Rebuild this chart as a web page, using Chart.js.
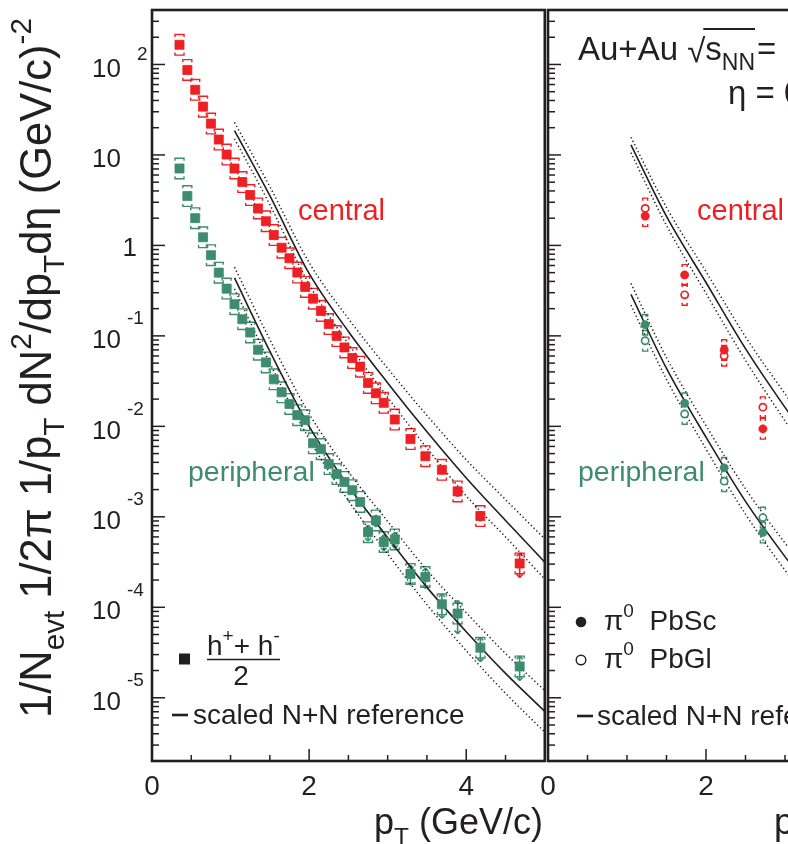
<!DOCTYPE html>
<html>
<head>
<meta charset="utf-8">
<title>Au+Au spectra, central and peripheral</title>
<script src="https://cdn.jsdelivr.net/npm/chart.js@4.4.1/dist/chart.umd.min.js"></script>
<style>
  html, body { margin: 0; padding: 0; background: #fff; overflow: hidden; }
  #wrap { position: relative; width: 788px; height: 844px; overflow: hidden; }
  canvas { position: absolute; top: 0; }
  #left { left: 0; }
  #right { left: 540px; }
</style>
</head>
<body>
<div id="wrap">
  <canvas id="left" width="552" height="844"></canvas>
  <canvas id="right" width="410" height="844"></canvas>
</div>
<script>
// ---- data ----
// (h+ + h-)/2, left panel
const hPt = [0.35, 0.45, 0.55, 0.65, 0.75, 0.85, 0.95, 1.05, 1.15, 1.25, 1.35, 1.45, 1.55, 1.65, 1.75,
             1.85, 1.95, 2.05, 2.15, 2.25, 2.35, 2.45, 2.55, 2.65, 2.75, 2.85, 2.95, 3.09, 3.29, 3.48,
             3.69, 3.89, 4.18, 4.68];
const hCentral = [165, 87, 52.5, 34.2, 22.2, 14.8, 10.1, 7.08, 5.01, 3.6, 2.56, 1.85, 1.3, 0.944, 0.721,
                  0.501, 0.348, 0.258, 0.189, 0.135, 0.0995, 0.0745, 0.0569, 0.0457, 0.0302, 0.0232, 0.0182,
                  0.0119, 0.00724, 0.00468, 0.00331, 0.00191, 0.00102, 0.000305];
const hPeripheral = [7.08, 3.51, 2.0, 1.23, 0.78, 0.5, 0.333, 0.224, 0.153, 0.109, 0.0703, 0.0509, 0.0331,
                     0.0238, 0.0177, 0.0133, 0.0117, 0.0065, 0.0056, 0.00383, 0.00297, 0.00243, 0.00197,
                     0.00146, 0.000676, 0.000912, 0.000527, 0.000562, 0.000234, 0.000216, 0.000108,
                     0.0000853, 0.0000358, 0.0000222];
// statistical errors (relative), 0 where hidden under the marker
const hCentralStat = [0,0,0,0,0,0,0,0,0,0,0,0,0,0,0,0,0,0,0,0,0,0,0,0,0,0,0,0,0,0,0.1,0.12,0.12,0.3];
const hPeripheralStat = [0,0,0,0,0,0,0,0,0,0,0,0,0,0,0,0,0,0,0,0,0,0,0,0,0.2,0.15,0.2,0.2,0.25,0.25,0.3,0.4,0.3,0.3];
const sysFactor = 1.3;

// scaled N+N reference, left panel
const refPt = [1.05, 1.5, 2, 2.5, 3, 3.5, 4, 4.5, 5];
const refCentral   = [18.6, 3.55, 0.49, 0.112, 0.0302, 0.0087, 0.00269, 0.000912, 0.000316];
const refCentralHi = [22.9, 4.47, 0.646, 0.155, 0.0437, 0.0132, 0.00427, 0.00155, 0.00057];
const refCentralLo = [15.1, 2.82, 0.372, 0.0813, 0.0209, 0.00575, 0.0017, 0.0006, 0.000205];
const refPeriph    = [0.437, 0.0676, 0.01, 0.00219, 0.000589, 0.000166, 0.0000537, 0.0000186, 0.00000708];
const refPeriphHi  = [0.575, 0.0912, 0.0138, 0.00316, 0.000891, 0.000257, 0.0000871, 0.0000309, 0.000012];
const refPeriphLo  = [0.331, 0.0501, 0.00724, 0.00151, 0.000389, 0.000107, 0.0000331, 0.0000112, 0.00000417];

// pi0, right panel
const pi0Pt = [1.23, 1.73, 2.23, 2.72];
const pi0CentralPbSc = [2.11, 0.472, 0.0697, 0.00938];
const pi0CentralPbGl = [2.56, 0.284, 0.0603, 0.0163];
const pi0PeriphPbSc  = [0.133, 0.018, 0.00348, 0.00067];
const pi0PeriphPbGl  = [0.0883, 0.0137, 0.00248, 0.00098];

const pi0RefPt = [1.05, 1.5, 2, 2.5, 3, 3.5];
const pi0RefCentral   = [12.9, 2.09, 0.389, 0.0724, 0.0162, 0.00398];
const pi0RefCentralHi = [15.7, 2.63, 0.513, 0.0977, 0.0229, 0.00575];
const pi0RefCentralLo = [10.6, 1.66, 0.295, 0.0537, 0.0115, 0.00275];
const pi0RefPeriph    = [0.288, 0.0437, 0.00759, 0.00148, 0.000363, 0.0001];
const pi0RefPeriphHi  = [0.38, 0.0575, 0.0102, 0.00204, 0.000513, 0.000145];
const pi0RefPeriphLo  = [0.219, 0.0331, 0.00562, 0.00107, 0.000257, 0.0000692];

const xTickLabels = [0, 2, 4];
const yDecades = [-5, -4, -3, -2, -1, 0, 1, 2];

// ---- styling ----
const RED = '#ed2024';
const GREEN = '#3d8c6e';
const INK = '#231f20';
const FONT = '"Liberation Sans", Arial, Helvetica, sans-serif';

function pts(xs, ys) { return xs.map((x, i) => ({ x: x, y: ys[i] })); }

function squares(ys, color, stat) {
  return { data: pts(hPt, ys), pointStyle: 'rect', pointRadius: 6.4, backgroundColor: color,
           borderColor: color, borderWidth: 0.8, showLine: false, order: 1,
           sys: sysFactor, sysW: 4.5, stat: stat, errColor: color };
}
function circles(ys, color, open) {
  return { data: pts(pi0Pt, ys), pointStyle: 'circle', pointRadius: open ? 3.6 : 4.2,
           backgroundColor: open ? '#fff' : color, borderColor: color, borderWidth: open ? 1.7 : 0.5,
           showLine: false, order: open ? 1 : 0, sys: sysFactor, sysW: 2.5, errColor: color };
}
function curve(xs, ys, dotted) {
  return { data: pts(xs, ys), showLine: true, pointRadius: 0, borderColor: INK,
           borderWidth: dotted ? 1.5 : 1.6, borderDash: dotted ? [1.3, 2.6] : [],
           cubicInterpolationMode: 'monotone', fill: false, order: 2 };
}

function options(padLeft, padRight) {
  return {
    responsive: false, animation: false, events: [],
    layout: { padding: { left: padLeft, right: padRight, top: 10, bottom: 83 } },
    plugins: { legend: { display: false }, tooltip: { enabled: false } },
    scales: {
      x: { type: 'linear', min: 0, max: 5, display: false },
      y: { type: 'logarithmic', min: 2e-6, max: 400, display: false }
    }
  };
}

function setFont(ctx, size) { ctx.font = size + 'px ' + FONT; }

// text with sub/superscripts: parts = [[text, 'sub'|'sup'|undefined], ...]
function drawRich(ctx, x, y, parts, size, align) {
  let w = 0;
  for (const [t, k] of parts) { setFont(ctx, k ? size * 0.68 : size); w += ctx.measureText(t).width; }
  if (align === 'right') x -= w;
  else if (align === 'center') x -= w / 2;
  ctx.textAlign = 'left';
  ctx.textBaseline = 'alphabetic';
  for (const [t, k] of parts) {
    setFont(ctx, k ? size * 0.68 : size);
    const dy = k === 'sub' ? size * 0.3 : k === 'sup' ? -size * 0.45 : 0;
    ctx.fillText(t, x, y + dy);
    x += ctx.measureText(t).width;
  }
  return w;
}

function line(ctx, x1, y1, x2, y2) {
  ctx.beginPath(); ctx.moveTo(x1, y1); ctx.lineTo(x2, y2); ctx.stroke();
}

// systematic brackets and statistical bars
const errorBars = {
  id: 'errorBars',
  beforeDatasetsDraw(chart) {
    const ctx = chart.ctx, y = chart.scales.y;
    const a = chart.chartArea;
    ctx.save();
    ctx.beginPath(); ctx.rect(a.left, a.top, a.right - a.left, a.bottom - a.top); ctx.clip();
    chart.data.datasets.forEach((ds, i) => {
      if (!ds.sys) return;
      const meta = chart.getDatasetMeta(i);
      ctx.strokeStyle = ds.errColor;
      ctx.lineWidth = 1.4;
      meta.data.forEach((el, j) => {
        const v = ds.data[j].y;
        const w = ds.sysW, leg = 2.5;
        const top = y.getPixelForValue(v * ds.sys), bot = y.getPixelForValue(v / ds.sys);
        ctx.beginPath();
        ctx.moveTo(el.x - w, top + leg); ctx.lineTo(el.x - w, top); ctx.lineTo(el.x + w, top); ctx.lineTo(el.x + w, top + leg);
        ctx.moveTo(el.x - w, bot - leg); ctx.lineTo(el.x - w, bot); ctx.lineTo(el.x + w, bot); ctx.lineTo(el.x + w, bot - leg);
        ctx.stroke();
        const s = ds.stat ? ds.stat[j] : 0;
        if (s > 0) {
          const hi = y.getPixelForValue(v * (1 + s)), lo = y.getPixelForValue(v * (1 - s));
          ctx.lineWidth = 1.6;
          line(ctx, el.x, hi, el.x, lo);
          line(ctx, el.x - 3, hi + 3, el.x, hi); line(ctx, el.x, hi, el.x + 3, hi + 3);
          line(ctx, el.x - 3, lo - 3, el.x, lo); line(ctx, el.x, lo, el.x + 3, lo - 3);
          ctx.lineWidth = 1.4;
        }
      });
    });
    ctx.restore();
  }
};

// frame, inside ticks and x tick labels
function drawFrame(chart) {
  const ctx = chart.ctx, a = chart.chartArea, x = chart.scales.x, y = chart.scales.y;
  ctx.save();
  ctx.strokeStyle = INK;
  ctx.lineWidth = 1.5;
  for (const e of [-6].concat(yDecades)) {
    for (let m = 1; m <= 9; m++) {
      const v = m * Math.pow(10, e);
      if (v < y.min || v > y.max) continue;
      const py = y.getPixelForValue(v);
      line(ctx, a.left, py, a.left + (m === 1 ? 13 : 7), py);
    }
  }
  for (let v = 0.5; v < 5; v += 0.5) {
    const px = x.getPixelForValue(v);
    const major = xTickLabels.includes(v);
    line(ctx, px, a.bottom, px, a.bottom - (major ? 12 : 6));
  }
  ctx.lineWidth = 2.6;
  ctx.strokeRect(a.left, a.top, a.right - a.left, a.bottom - a.top);
  ctx.fillStyle = INK;
  setFont(ctx, 28);
  ctx.textAlign = 'center';
  ctx.textBaseline = 'middle';
  for (const v of xTickLabels) ctx.fillText(String(v), x.getPixelForValue(v), 787);
  ctx.restore();
}

const leftDecor = {
  id: 'leftDecor',
  afterDraw(chart) {
    const ctx = chart.ctx, y = chart.scales.y;
    drawFrame(chart);
    ctx.save();
    ctx.fillStyle = INK;
    // y tick labels
    for (const e of yDecades) {
      const py = y.getPixelForValue(Math.pow(10, e));
      ctx.textBaseline = 'middle';
      if (e === 0) {
        setFont(ctx, 26); ctx.textAlign = 'right'; ctx.fillText('1', 137, py + 3);
        continue;
      }
      setFont(ctx, 26); ctx.textAlign = 'right'; ctx.fillText('10', 121, py + 5);
      if (e !== 1) {
        setFont(ctx, 19); ctx.textAlign = 'left';
        ctx.fillText(String(e), e > 0 ? 137 : 127, py + (e > 0 ? -10 : -17));
      }
    }
    // y title
    const yParts = [['1/N'], ['evt', 'sub'], [' 1/2\u03c0 1/p'], ['T', 'sub'], [' dN'], ['2', 'sup'],
                    ['/dp'], ['T', 'sub'], ['d\u03b7 (GeV/c)'], ['-2', 'sup']];
    ctx.save();
    ctx.translate(51, 718);
    ctx.rotate(-Math.PI / 2);
    const w30 = (function () { let w = 0; for (const [t, k] of yParts) { setFont(ctx, k ? 30 * 0.68 : 30); w += ctx.measureText(t).width; } return w; })();
    drawRich(ctx, 0, 0, yParts, 30 * 700 / w30);
    ctx.restore();
    // x title
    drawRich(ctx, 543, 834, [['p'], ['T', 'sub'], [' (GeV/c)']], 36, 'right');
    // labels
    ctx.fillStyle = RED; drawRich(ctx, 298, 220, [['central']], 29);
    ctx.fillStyle = GREEN; drawRich(ctx, 188, 481, [['peripheral']], 28.5);
    // legend
    ctx.fillStyle = INK;
    ctx.fillRect(179, 653.5, 11, 11);
    drawRich(ctx, 207, 655, [['h'], ['+', 'sup'], ['+ h'], ['-', 'sup']], 28);
    ctx.strokeStyle = INK; ctx.lineWidth = 1.6;
    line(ctx, 207, 659.5, 280, 659.5);
    drawRich(ctx, 241, 685, [['2']], 28, 'center');
    ctx.lineWidth = 2.6;
    line(ctx, 172, 715, 188, 715);
    drawRich(ctx, 193, 724, [['scaled N+N reference']], 28);
    ctx.restore();
  }
};

const rightDecor = {
  id: 'rightDecor',
  afterDraw(chart) {
    const ctx = chart.ctx;
    drawFrame(chart);
    ctx.save();
    ctx.translate(-540, 0);
    ctx.fillStyle = INK;
    ctx.strokeStyle = INK;
    drawRich(ctx, 943, 834, [['p'], ['T', 'sub'], [' (GeV/c)']], 36, 'right');
    // header
    let cx = 578;
    cx += drawRich(ctx, cx, 60, [['Au+Au ']], 33);
    cx += drawRich(ctx, cx, 62, [['\u221a']], 33);
    const barStart = cx - 2;
    cx += drawRich(ctx, cx, 60, [['s']], 33);
    cx += drawRich(ctx, cx, 70, [['NN']], 23);
    ctx.lineWidth = 1.8;
    line(ctx, barStart, 29, cx, 29);
    drawRich(ctx, cx + 2, 60, [['= 130 GeV']], 33);
    drawRich(ctx, 728, 104, [['\u03b7 = 0']], 33);
    // labels
    ctx.fillStyle = RED; drawRich(ctx, 697, 220, [['central']], 29);
    ctx.fillStyle = GREEN; drawRich(ctx, 578, 481, [['peripheral']], 28.5);
    // legend
    ctx.fillStyle = INK;
    ctx.beginPath(); ctx.arc(581, 622, 5.3, 0, Math.PI * 2); ctx.fill();
    ctx.lineWidth = 1.4;
    ctx.beginPath(); ctx.arc(581, 660, 4.8, 0, Math.PI * 2); ctx.stroke();
    drawRich(ctx, 604, 630, [['\u03c0'], ['0', 'sup'], ['  PbSc']], 28);
    drawRich(ctx, 604, 668, [['\u03c0'], ['0', 'sup'], ['  PbGl']], 28);
    ctx.lineWidth = 2.6;
    line(ctx, 577, 716, 593, 716);
    drawRich(ctx, 597, 725, [['scaled N+N reference']], 28);
    ctx.restore();
  }
};

new Chart(document.getElementById('left'), {
  type: 'scatter',
  data: {
    datasets: [
      squares(hCentral, RED, hCentralStat),
      squares(hPeripheral, GREEN, hPeripheralStat),
      curve(refPt, refCentral, false),
      curve(refPt, refCentralHi, true),
      curve(refPt, refCentralLo, true),
      curve(refPt, refPeriph, false),
      curve(refPt, refPeriphHi, true),
      curve(refPt, refPeriphLo, true)
    ]
  },
  options: options(152, 5),
  plugins: [errorBars, leftDecor]
});

new Chart(document.getElementById('right'), {
  type: 'scatter',
  data: {
    datasets: [
      circles(pi0CentralPbSc, RED, false),
      circles(pi0CentralPbGl, RED, true),
      circles(pi0PeriphPbSc, GREEN, false),
      circles(pi0PeriphPbGl, GREEN, true),
      curve(pi0RefPt, pi0RefCentral, false),
      curve(pi0RefPt, pi0RefCentralHi, true),
      curve(pi0RefPt, pi0RefCentralLo, true),
      curve(pi0RefPt, pi0RefPeriph, false),
      curve(pi0RefPt, pi0RefPeriphHi, true),
      curve(pi0RefPt, pi0RefPeriphLo, true)
    ]
  },
  options: options(8, 7),
  plugins: [errorBars, rightDecor]
});
</script>
</body>
</html>
